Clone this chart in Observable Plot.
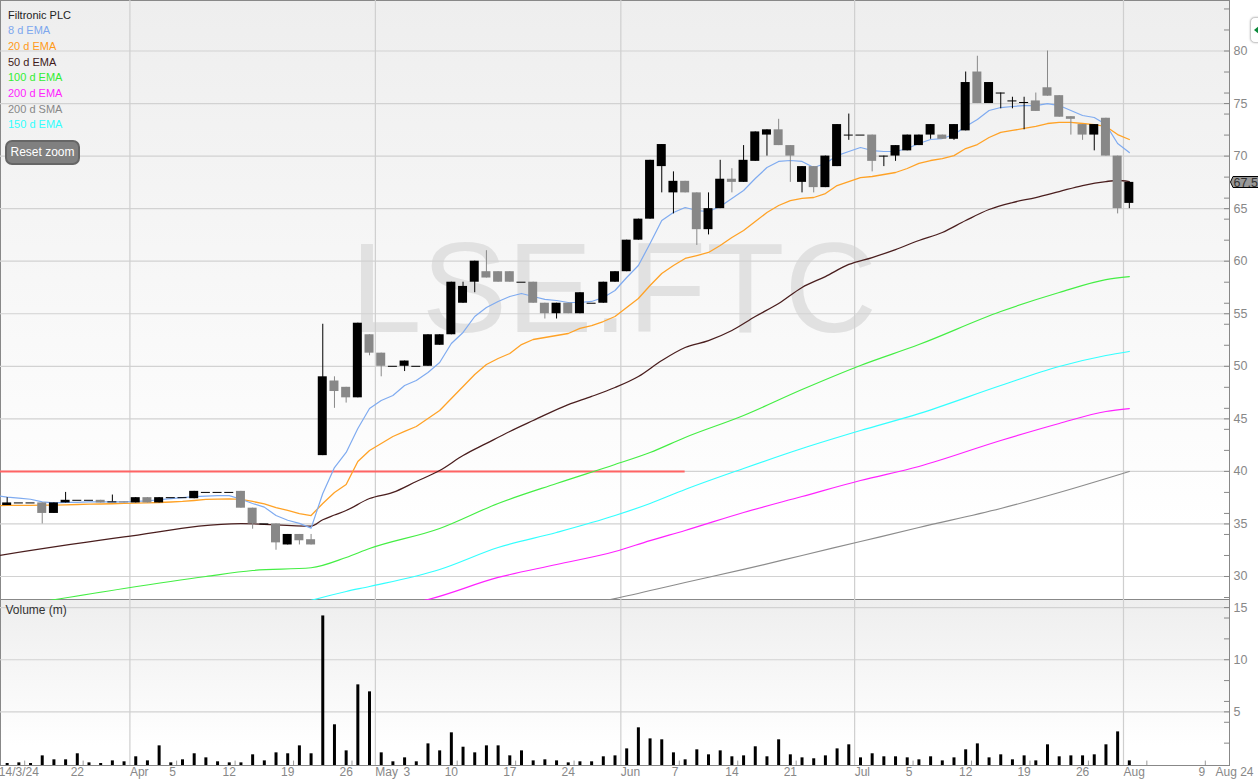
<!DOCTYPE html>
<html><head><meta charset="utf-8">
<script src="https://cdn.jsdelivr.net/npm/d3@7"></script>
<script src="https://cdn.jsdelivr.net/npm/@observablehq/plot@0.6"></script>
<style>
html,body{margin:0;padding:0;background:#fff;overflow:hidden}
#stage{position:relative;width:1258px;height:779px;overflow:hidden;font-family:"Liberation Sans",Arial,sans-serif}
.pane{position:absolute;left:0;width:1228px;border:1px solid #888;background:linear-gradient(#eee,#fff 88%)}
#stage>svg{position:absolute;left:0;background:transparent}
#reset{position:absolute;left:5px;top:140px;width:71px;height:21px;line-height:21px;background:#808080;border:2px solid #666;border-radius:7px;color:#fff;font-size:12px;text-align:center}
#menu{position:absolute;left:1250px;top:17px;width:20px;height:24px;background:#fff;border:1px solid #ccc;border-radius:5px;box-shadow:0 0 2px #bbb}
#menu:after{content:"";position:absolute;left:3px;top:7px;border:5px solid transparent;border-right:6px solid #0a8a3a;border-left:0}
</style></head><body><div id="stage"></div>
<script>
const opens=[36.75,37,37,37,36,37,37.25,37.25,37.25,37.1,37.1,37,37.5,37,37.5,37.5,37.4,38,38,38,38.1,36.5,35,35,33,34,33.5,41.5,48.6,48,47,53,51.25,50,50,50,50,52,53,56,58,59,59,59,58,58,56,55,56,55,56,56,58,59,62,64,69,66.5,67.6,66.5,63,65,67.8,67.5,69.5,72,72.5,71,67.5,69,67,69,72,72,72,70,70,70.5,71,72,72,71.6,72.4,78,75,76,75.25,75.1,75.25,76.5,75.75,73.75,73,72,73.6,70,65.5];
const closes=[37,37,37,36,37,37.25,37.25,37.25,37,37.1,37,37.5,37,37.5,37.5,37.5,38.1,38,38,38,36.5,35,35,33.2,34,33.4,33,49,47.6,47,54.1,51.25,50,50,50.5,50,53,53,58,57.6,60,58.4,58,58,58,56,55,56,55,57,56,58,59,62,64,69.6,71.1,67.6,66.5,63,65,67.8,67.5,69.6,72.3,72.5,71,70,69,67,70,73,72,72,69.5,70,71,72,72,73,71.6,73,77,75,77,76,75.25,75.1,74.25,75.7,73.7,73.5,72,73,70,65,67.5];
const highs=[37.5,37,37,37,37,38,37.25,37.25,37.25,37.75,37.1,37.5,37.5,37.5,37.5,37.5,38.1,38,38,38,38.1,36.5,35,35,34,34,34,54,49,48,54.1,53,51.25,50,50.5,50,53,53,58,58,60,61,59,59,58,58,56,56,56,57,56,58,59,62,64,69.6,71.1,68.5,67.6,66.5,66.5,69.6,68.8,71,72.3,72.5,73.5,71,69,69,70,73,74,72,72,70,71,72,72,73,72,73,78,79.5,77,76,75.6,75.6,76,80,75.75,73.75,73,73,73.6,70,67.5];
const lows=[36.75,37,37,35,36,37,37.25,37.25,37,37.1,37,37,37,37,37.5,37.5,37.4,38,38,38,36.5,34.5,35,32.5,33,33,33,41.5,46,46.5,47,51,49,50,49.5,50,50,52,53,56,57,58.4,58,58,58,56,54.5,54.5,55,55,56,56,58,59,62,64,66.5,64.5,66.5,61.5,62.5,65,66.5,67.5,69.5,70,71,67.5,66.5,66.5,67,69,71.5,72,68.5,69,69.5,70.5,71,71.6,71.6,71.5,72.4,75,75,74.5,74.5,72.5,74.25,75.7,73.7,72,71.5,70.5,70,64.5,65];
const volumes=[0.05,0.11,0.05,0.78,0.4,0.4,0.98,0.11,0.05,0.3,0.21,0.69,0.3,1.74,0.11,0.4,0.98,0.59,0.21,0.11,0.11,0.88,0.3,1.07,0.98,1.74,0.98,14.2,3.76,1.26,7.59,6.92,1.07,0.21,0.59,0.21,1.93,1.26,2.99,1.61,1.07,1.74,1.74,0.78,1.26,0.3,0.4,0.3,0.11,0.21,0.21,0.69,0.78,1.45,3.47,2.41,2.32,1.07,0.4,1.36,0.88,1.26,0.69,0.78,1.65,0.69,2.32,0.88,0.59,0.5,0.78,1.45,1.84,0.59,0.98,0.69,0.69,0.59,0.4,0.69,0.3,0.59,1.36,1.93,0.59,0.88,0.4,0.78,0.3,1.84,0.69,0.78,0.78,0.88,1.84,3.08,0.3];
// daily moving averages, first value is the session before the window
const ema8=[37.7,37.55,37.45,37.35,37.1,37,37.05,37.05,37.1,37.1,37.1,37.1,37.15,37.2,37.3,37.4,37.5,37.6,37.65,37.7,37.7,37.35,36.95,36.6,35.8,35.35,35.05,34.6,37.9,40.37,41.8,44.08,45.98,46.75,47.22,48.17,48.65,49.41,50.36,52.17,53.22,54.74,55.6,56.17,56.64,56.93,56.64,56.36,56.26,56.07,56.07,56.17,56.55,57.21,58.45,59.59,61.68,63.87,64.63,65.11,64.82,64.73,65.2,65.97,66.73,67.87,68.91,69.49,69.58,69.49,68.91,69.3,70.05,70.44,70.82,70.53,70.44,70.44,70.72,71.2,71.58,71.67,72.05,72.81,73.48,74.34,74.62,74.72,74.81,74.81,75,74.81,74.34,73.86,73.67,73,71.2,70.34];
const ema20=[36.73,36.76,36.76,36.76,36.79,36.8,36.82,36.85,36.88,36.9,36.92,36.95,36.98,37.01,37.04,37.09,37.14,37.23,37.33,37.37,37.39,37.33,37.14,36.92,36.56,36.28,35.99,35.8,36.95,38,38.75,40.94,41.99,42.66,43.32,43.8,44.27,45.03,45.79,46.94,48.08,49.22,50.17,50.74,51.22,52.07,52.55,52.74,52.93,53.12,53.6,53.88,54.26,54.74,55.6,56.45,57.69,58.83,59.59,60.26,60.54,60.83,61.5,62.25,62.92,63.78,64.63,65.3,65.77,65.97,66.06,66.44,67.2,67.58,67.96,68.06,68.25,68.44,68.82,69.3,69.58,69.77,70.05,70.72,71.1,71.77,72.25,72.44,72.63,72.82,73.1,73.2,73.2,73.1,73,72.82,72.05,71.58];
// slow averages read at the sessions listed with them
const ema50Days=[-1,10,20,26,27,28,29,31,33,35,37,39,41,43,45,48,50,52,54,56,58,60,62,64,66,68,70,72,74,76,78,80,82,84,86,88,90,92,94,95,96];
const ema50=[31.95,33.76,35.04,34.79,35.4,35.85,36.28,37.42,38,39.04,40.08,41.51,42.66,43.8,44.84,46.36,47.13,47.98,49.03,50.55,51.79,52.45,53.41,54.74,55.97,57.5,58.54,59.69,60.35,61.11,61.97,62.73,63.87,64.92,65.58,66.06,66.63,67.2,67.58,67.68,67.58];
const ema100Days=[-1,10,17,21,26,29,31,37,42,47,52,55,58,63,68,73,78,85,90,94,96];
const ema100=[26.86,28.86,30,30.57,30.83,31.81,32.66,34.57,36.95,38.85,40.66,41.8,43.23,45.32,47.79,50.08,52.07,55.21,57.02,58.25,58.54];
const ema150Days=[25,29,31,37,42,47,52,55,58,63,68,73,78,85,90,94,96];
const ema150=[27.43,28.57,29.05,30.67,32.76,34.19,35.8,36.95,38.28,40.28,42.18,43.89,45.5,48.17,49.98,51.03,51.41];
const ema200Days=[34,36,42,47,52,55,58,63,68,73,78,85,90,94,96];
const ema200=[27.34,27.81,29.91,31.14,32.38,33.42,34.38,36.09,37.61,39.13,40.47,42.94,44.56,45.7,45.98];
const sma200Days=[50,52,58,63,68,73,78,85,90,96];
const sma200=[27.43,27.9,29.43,30.67,32,33.33,34.66,36.47,37.99,39.99];
const legendNames=["Filtronic PLC","8 d EMA","20 d EMA","50 d EMA","100 d EMA","200 d EMA","200 d SMA","150 d EMA"];
const legendColors=["#222","#7da7ee","#ff9a1a","#401a1a","#33ee33","#ff22ff","#888","#33ffff"];
const priceGrid=[30,35,40,45,50,55,60,65,70,75,80];
const priceMinor=[28,32,34,36,38,42,44,46,48,52,54,56,58,62,64,66,68,72,74,76,78,82,84];
const volumeGrid=[5,10,15];
const volumeMinor=[2,4,6,8,12,14];
const monthGrid=[10.5,31.5,52.5,72.5,95.5];
const weekTicks=[1.5,6.5,14.5,19.5,24.5,29.5,38.5,43.5,48.5,57.5,62.5,67.5,77.5,82.5,87.5,92.5,97.5,102.5];
const dayLabels=["14/3/24","22","5","12","19","26","3","10","17","24","7","14","21","5","12","19","26","9","Aug 24"];
const dayLabelAt=[1,6,14.15,19,24,29,34.2,38,43,48,57.15,62,67,77.15,82,87,92,102.2,105];
const monthLabels=["Apr","May","Jun","Jul","Aug"];
const referenceLevel=40, referenceEnd=58, lastPrice=67.5;

const candles=opens.map((o,i)=>({i,o,c:closes[i],h:highs[i],l:lows[i],v:volumes[i],col:closes[i]<o?"#888":"#000"}));
const series=(days,vals)=>vals.map((v,k)=>({i:days[k],v}));
const allDays=d3.range(-1,97);
const xDomain=[-0.57,104.57];
const w=11.69, half=4.5/w;
const labelFont={fontFamily:"Liberation Sans, Arial, sans-serif"};

const stage=document.getElementById("stage");
const paneTop=document.createElement("div");paneTop.className="pane";paneTop.style.cssText="top:0;height:598px;border-bottom:0";
const paneVol=document.createElement("div");paneVol.className="pane";paneVol.style.cssText="top:599px;height:165px";
stage.append(paneTop,paneVol);

const lineMark=(days,vals,color,width=1.2,curve="linear")=>Plot.line(series(days,vals),{x:"i",y:"v",stroke:color,strokeWidth:width,clip:true,curve});

const main=Plot.plot({
  width:1258,height:600,margin:0,marginRight:29,
  style:{background:"transparent",...labelFont},
  x:{domain:xDomain,axis:null},
  y:{domain:[27.716,84.805],axis:null},
  marks:[
    Plot.text(["LSE.FTC"],{frameAnchor:"top-left",dx:350,dy:241,fontSize:128,fill:"#e1e1e1",textAnchor:"start",fontFamily:"Liberation Sans"}),
    Plot.ruleY(priceGrid,{stroke:"#d2d2d2",strokeWidth:1.2}),
    Plot.ruleX(monthGrid,{stroke:"#cfcfcf",strokeWidth:1.2}),
    Plot.ruleY([referenceLevel],{x1:()=>xDomain[0],x2:()=>referenceEnd,stroke:"#ff6464",strokeWidth:2}),
    lineMark(sma200Days,sma200,"#8c8c8c",1.2,"monotone-x"),
    lineMark(ema200Days,ema200,"#ff22ff",1.2,"monotone-x"),
    lineMark(ema150Days,ema150,"#33ffff",1.2,"monotone-x"),
    lineMark(ema100Days,ema100,"#44ee44",1.2,"monotone-x"),
    lineMark(ema50Days,ema50,"#4a1e1e",1.3,"monotone-x"),
    lineMark(allDays,ema20,"#ffa226",1.3),
    lineMark(allDays,ema8,"#7fabf0",1.2),
    Plot.ruleX(candles,{x:"i",y1:"l",y2:"h",stroke:"col",strokeWidth:1}),
    Plot.rect(candles.filter(d=>d.o!==d.c),{x1:d=>d.i-half,x2:d=>d.i+half,y1:"o",y2:"c",fill:"col"}),
    Plot.ruleY(candles.filter(d=>d.o===d.c),{x1:d=>d.i-half,x2:d=>d.i+half,y:"o",stroke:"#000",strokeWidth:1}),
    Plot.ruleY(priceGrid.concat(priceMinor),{x1:()=>xDomain[1]-5/w,x2:()=>xDomain[1],stroke:"#888"}),
    Plot.text(priceGrid,{y:d=>d,frameAnchor:"right",dx:4,textAnchor:"start",text:String,fill:"#888",fontSize:12.5})
  ]
});
main.style.top="0px";
stage.append(main);

const vol=Plot.plot({
  width:1258,height:179,marginLeft:0,marginTop:0,marginRight:29,marginBottom:14,
  style:{background:"transparent",...labelFont},
  x:{domain:xDomain,axis:null},
  y:{domain:[-0.144,15.68],axis:null},
  marks:[
    Plot.ruleY(volumeGrid,{stroke:"#d2d2d2",strokeWidth:1.2}),
    Plot.ruleX(monthGrid,{stroke:"#cfcfcf",strokeWidth:1.2}),
    Plot.ruleX(weekTicks,{y1:-0.144,y2:0.28,stroke:"#999"}),
    Plot.ruleX(candles,{x:"i",y1:-0.144,y2:"v",stroke:"#000",strokeWidth:3}),
    Plot.ruleY(volumeGrid.concat(volumeMinor),{x1:()=>xDomain[1]-5/w,x2:()=>xDomain[1],stroke:"#888"}),
    Plot.text(volumeGrid,{y:d=>d,frameAnchor:"right",dx:4,textAnchor:"start",text:String,fill:"#888",fontSize:12.5}),
    Plot.axisX(dayLabelAt,{anchor:"bottom",tickSize:0,tickPadding:2,tickFormat:(d,i)=>dayLabels[i],fill:"#888",fontSize:12,label:null}),
    Plot.axisX(monthGrid,{anchor:"bottom",tickSize:0,tickPadding:2,tickFormat:(d,i)=>monthLabels[i],fill:"#888",fontSize:12,textAnchor:"start",label:null}),
    Plot.text(["Volume (m)"],{frameAnchor:"top-left",dx:5,dy:5,fill:"#333",fontSize:12,textAnchor:"start"})
  ]
});
vol.style.top="600px";
stage.append(vol);

// legend as real text
const leg=document.createElementNS("http://www.w3.org/2000/svg","svg");
leg.setAttribute("width",120);leg.setAttribute("height",135);leg.style.top="0";
const rowY=[19,34,50,66,81,97,113,128];
legendNames.forEach((n,k)=>{const t=document.createElementNS("http://www.w3.org/2000/svg","text");t.setAttribute("x",8);t.setAttribute("y",rowY[k]);t.setAttribute("fill",legendColors[k]);t.setAttribute("font-size",11);t.textContent=n;leg.append(t)});
stage.append(leg);

const reset=document.createElement("div");reset.id="reset";reset.textContent="Reset zoom";stage.append(reset);
const menu=document.createElement("div");menu.id="menu";stage.append(menu);

// last price flag, placed with the price scale
const py=main.scale("y").apply(lastPrice);
const flag=document.createElementNS("http://www.w3.org/2000/svg","svg");
flag.setAttribute("width",30);flag.setAttribute("height",16);flag.style.left="1229px";flag.style.top=(py-8)+"px";
flag.innerHTML='<path d="M1.5 8 L4 2.5 H30 V13.5 H4 Z" fill="#999" stroke="#000"/><text x="4.5" y="12.5" font-size="12.5" fill="#333">'+lastPrice+'</text>';
stage.append(flag);
</script></body></html>
